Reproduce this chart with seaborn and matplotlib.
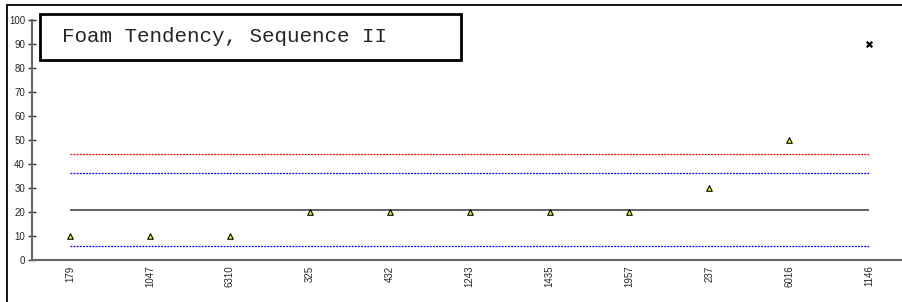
import pandas as pd
import matplotlib.pyplot as plt
import seaborn as sns
from matplotlib.patches import Rectangle
from matplotlib.lines import Line2D

# data
samples = ['179', '1047', '6310', '325', '432', '1243', '1435', '1957', '237', '6016', '1146']
foam = [10, 10, 10, 20, 20, 20, 20, 20, 30, 50, 90]
flagged = [False] * 10 + [True]
mean_line = 21
upper_red = 44
upper_blue = 36.3
lower_blue = 5.7

sns.set_style('white')
plt.rcParams['font.family'] = ['Liberation Sans Narrow', 'Liberation Sans', 'DejaVu Sans']

df = pd.DataFrame({'sample': samples, 'foam': foam, 'flagged': flagged})

fig = plt.figure(figsize=(9.02, 3.02), dpi=100)
ax = fig.add_axes([32 / 902, 42 / 302, 870 / 902, 240 / 302])

sns.stripplot(data=df[~df['flagged']], x='sample', y='foam', order=samples, jitter=False,
              marker='^', color='#ffff00', edgecolor='black', linewidth=0.8, size=4, ax=ax, zorder=5)
sns.stripplot(data=df[df['flagged']], x='sample', y='foam', order=samples, jitter=False,
              marker='x', color='black', linewidth=1.6, size=4, ax=ax, zorder=5)

ax.hlines(upper_red, 0, 10, colors='red', linestyles=(0, (1.5, 1)), linewidth=0.9)
ax.hlines(upper_blue, 0, 10, colors='blue', linestyles=(0, (1.5, 1)), linewidth=0.9)
ax.hlines(lower_blue, 0, 10, colors='blue', linestyles=(0, (1.5, 1)), linewidth=0.9)
ax.hlines(mean_line, 0, 10, colors='#555555', linewidth=1.3)

ax.set_xlim(-0.476, 10.41)
ax.set_ylim(0, 100)
ax.set_yticks(range(0, 101, 10))
ax.set_xlabel('')
ax.set_ylabel('')

for s in ['top', 'right']:
    ax.spines[s].set_visible(False)
for s in ['left', 'bottom']:
    ax.spines[s].set_color('#666666')
    ax.spines[s].set_linewidth(1.5)

ax.tick_params(axis='y', direction='inout', length=6, width=1, color='#333333',
               labelsize=7, pad=2, left=True)
ax.tick_params(axis='x', length=0, labelsize=7, pad=4, rotation=90)

# title box
fig.add_artist(Rectangle((40 / 902, 1 - 60 / 302), 421 / 902, 46 / 302,
                         transform=fig.transFigure, fill=False, edgecolor='black', linewidth=2))
fig.text(62 / 902, 1 - 37 / 302, 'Foam Tendency, Sequence II', family='Liberation Mono',
         fontsize=15, va='center', ha='left')

# outer frame (left and top edges)
fig.add_artist(Line2D([7 / 902, 7 / 902], [0, 1 - 5 / 302], transform=fig.transFigure,
                      color='black', linewidth=1.3))
fig.add_artist(Line2D([7 / 902, 1], [1 - 5 / 302, 1 - 5 / 302], transform=fig.transFigure,
                      color='black', linewidth=1.3))

fig.savefig('out.png', dpi=100)
